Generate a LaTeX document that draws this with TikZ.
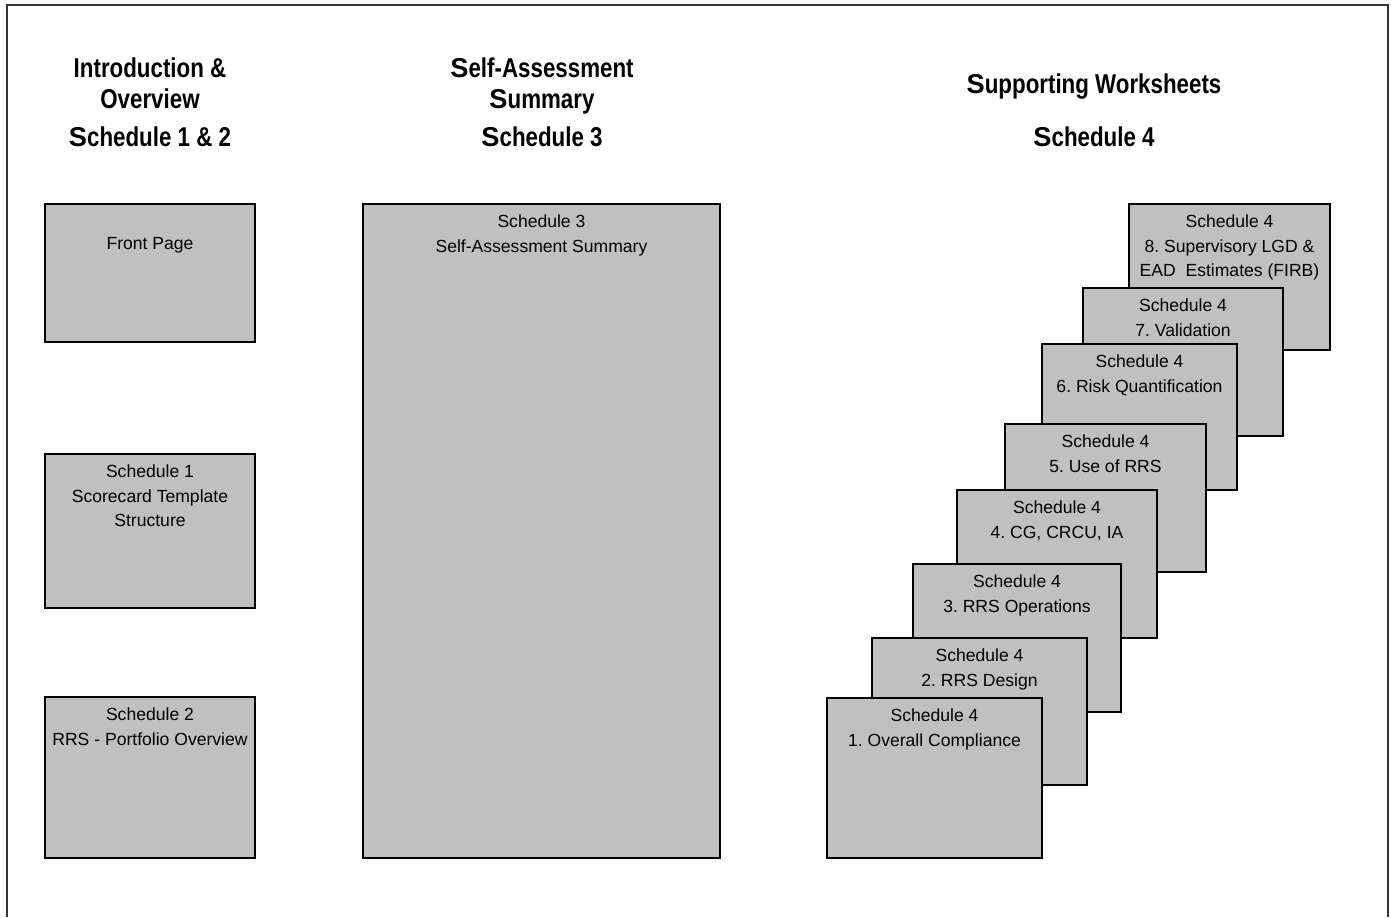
\documentclass[tikz,border=0pt]{standalone}
\usepackage{fontspec}
\setmainfont{Liberation Sans}
\newfontfamily\headfont[FakeStretch=0.82]{Liberation Sans}
\newfontfamily\headwide{Liberation Sans}
\newcommand{\HS}{{\headwide S}}
\usetikzlibrary{positioning}
\definecolor{sheetgray}{HTML}{C0C0C0}
\frenchspacing

\begin{document}
\begin{tikzpicture}[x=0.02cm, y=-0.02cm,
	sheet/.style={draw=black, fill=sheetgray, line width=0.9pt, anchor=north west, inner sep=0pt, outer sep=0pt},
	sheettext/.style={align=center, inner sep=0pt, font=\fontsize{10}{14.2}\selectfont},
	heading/.style={align=center, anchor=north, inner sep=0pt, font=\headfont\bfseries\fontsize{15.5}{17.6}\selectfont}]
	
	\useasboundingbox (0,0) rectangle (1391,917);
	\draw[black!80, line width=1.2pt] (7,917) -- (7,5) -- (1388,5) -- (1388,917);
	
	% column headings
	\node[heading] (h1) at (150, 57)     {Introduction \&\\Overview\\[4.5pt]\HS chedule 1 \& 2};
	\node[heading] (h2) at (542, 57)     {\HS elf-Assessment\\\HS ummary\\[4.5pt]\HS chedule 3};
	\node[heading] (h3) at (1094, 73)    {\HS upporting Worksheets\\[13pt]\HS chedule 4};
	
	% schedules 1 & 2
	\node[sheet, minimum width=4.2cm, minimum height=2.76cm] (fp) at (45, 204)     {};
	\node[sheet, minimum width=4.2cm, minimum height=3.08cm] (s1) at (45, 454)     {};
	\node[sheet, minimum width=4.2cm, minimum height=3.22cm] (s2) at (45, 697)     {};
	\node[sheettext, below=0.66cm of fp.north] (fpt)     {Front Page};
	\node[sheettext, below=0.2cm of s1.north] (s1t)     {Schedule 1\\Scorecard Template\\Structure};
	\node[sheettext, below=0.2cm of s2.north] (s2t)     {Schedule 2\\RRS - Portfolio Overview};
	
	% schedule 3
	\node[sheet, minimum width=7.14cm, minimum height=13.08cm] (s3) at (363, 204)     {};
	\node[sheettext, below=0.2cm of s3.north] (s3t)     {Schedule 3\\Self-Assessment Summary};
	
	% schedule 4 worksheets, back to front
	\node[sheet, minimum width=4.02cm, minimum height=2.92cm] (w8) at (1129, 204)     {};
	\node[sheettext, below=0.2cm of w8.north] (w8t)     {Schedule 4\\8. Supervisory LGD \&\\EAD\ \ Estimates (FIRB)};
	\node[sheet, minimum width=4.0cm, minimum height=2.96cm] (w7) at (1083, 288)     {};
	\node[sheettext, below=0.2cm of w7.north] (w7t)     {Schedule 4\\7. Validation};
	\node[sheet, minimum width=3.9cm, minimum height=2.92cm] (w6) at (1042, 344)     {};
	\node[sheettext, below=0.2cm of w6.north] (w6t)     {Schedule 4\\6. Risk Quantification};
	\node[sheet, minimum width=4.02cm, minimum height=2.96cm] (w5) at (1005, 424)     {};
	\node[sheettext, below=0.2cm of w5.north] (w5t)     {Schedule 4\\5. Use of RRS};
	\node[sheet, minimum width=4.0cm, minimum height=2.96cm] (w4) at (957, 490)     {};
	\node[sheettext, below=0.2cm of w4.north] (w4t)     {Schedule 4\\4. CG, CRCU, IA};
	\node[sheet, minimum width=4.16cm, minimum height=2.96cm] (w3) at (913, 564)     {};
	\node[sheettext, below=0.2cm of w3.north] (w3t)     {Schedule 4\\3. RRS Operations};
	\node[sheet, minimum width=4.3cm, minimum height=2.94cm] (w2) at (872, 638)     {};
	\node[sheettext, below=0.2cm of w2.north] (w2t)     {Schedule 4\\2. RRS Design};
	\node[sheet, minimum width=4.3cm, minimum height=3.2cm] (w1) at (827, 698)     {};
	\node[sheettext, below=0.2cm of w1.north] (w1t)     {Schedule 4\\1. Overall Compliance};
	
\end{tikzpicture}
\end{document}
